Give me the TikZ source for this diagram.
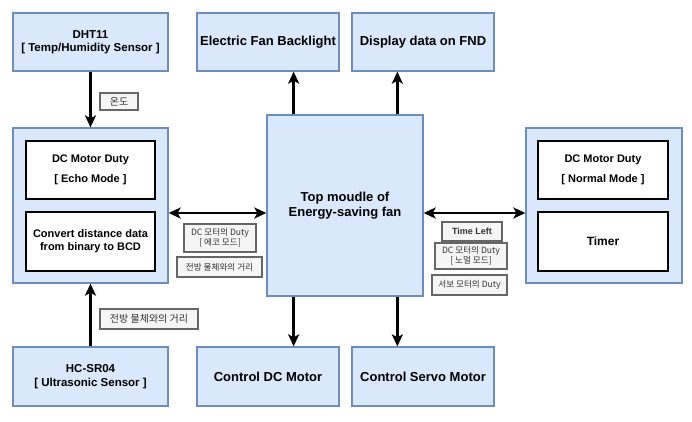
\documentclass[tikz,border=0pt]{standalone}
\usepackage{fontspec}
\setmainfont{Liberation Sans}
\newfontfamily\krfont{Noto Sans CJK KR}
\usetikzlibrary{arrows.meta}
\definecolor{bfill}{HTML}{DAE8FC}
\definecolor{bdraw}{HTML}{6C8EBF}
\definecolor{lfill}{HTML}{F5F5F5}
\definecolor{ldraw}{HTML}{666666}
\definecolor{ltext}{HTML}{333333}
\tikzset{
  bluebox/.style={draw=bdraw, fill=bfill, line width=1.3pt, align=center, font=\bfseries\fontsize{13}{15}\selectfont, inner sep=0pt},
  smallblue/.style={bluebox, font=\bfseries\fontsize{11.5}{13.5}\selectfont},
  panel/.style={draw=bdraw, fill=bfill, line width=1.3pt, inner sep=0pt},
  inbox/.style={draw=black, fill=white, line width=1.6pt, align=center, font=\bfseries\fontsize{11}{13}\selectfont, inner sep=0pt},
  lbl/.style={draw=ldraw, fill=lfill, line width=1.3pt, align=center, text=ltext, inner sep=0pt, font=\krfont\fontsize{8.6}{10}\selectfont},
  biglbl/.style={lbl, font=\krfont\fontsize{10}{12}\selectfont},
  tip/.tip={Stealth[length=12pt,width=11pt,inset=3pt]},
  arr/.style={line width=2.6pt, -tip},
  darr/.style={line width=2.6pt, tip-tip}
}
\begin{document}
\begin{tikzpicture}[x=1pt,y=-1pt]
\useasboundingbox (0,0) rectangle (692,421);
% top row
\node[smallblue, minimum width=155pt, minimum height=58pt] (dht) at (90.5,42) {DHT11\\{[} Temp/Humidity Sensor ]};
\node[bluebox, minimum width=142pt, minimum height=58pt] (efb) at (268,42) {Electric Fan Backlight};
\node[bluebox, minimum width=142pt, minimum height=58pt] (fnd) at (423,42) {Display data on FND};
% center
\node[bluebox, minimum width=156pt, minimum height=181pt] (top) at (345,205.5) {Top moudle of\\Energy-saving fan};
% left panel
\node[panel, minimum width=155pt, minimum height=155pt] (lp) at (90.5,205.5) {};
\node[inbox, minimum width=129pt, minimum height=58pt] (l1) at (90.5,170) {DC Motor Duty\\[7pt]{[} Echo Mode ]};
\node[inbox, minimum width=129pt, minimum height=59pt] (l2) at (90.5,241.5) {Convert distance data\\from binary to BCD};
% right panel
\node[panel, minimum width=156pt, minimum height=155pt] (rp) at (604,205.5) {};
\node[inbox, minimum width=130pt, minimum height=58pt] (r1) at (603,170) {DC Motor Duty\\[7pt]{[} Normal Mode ]};
\node[inbox, minimum width=130pt, minimum height=59pt, font=\bfseries\fontsize{12}{14}\selectfont] (r2) at (603,241.5) {Timer};
% bottom row
\node[smallblue, minimum width=155pt, minimum height=59pt] (hc) at (90.5,376.5) {HC-SR04\\{[} Ultrasonic Sensor ]};
\node[bluebox, minimum width=142pt, minimum height=59pt] (cdc) at (268,376.5) {Control DC Motor};
\node[bluebox, minimum width=142pt, minimum height=59pt] (csm) at (423,376.5) {Control Servo Motor};
% arrows
\draw[arr] (dht.south) -- (lp.north);
\draw[arr] (hc.north) -- (lp.south);
\draw[arr] (top.north -| efb.south east) ++(-46pt,0) coordinate (t1) -- (t1 |- efb.south);
\draw[arr] (top.north -| fnd.south west) ++(46pt,0) coordinate (t2) -- (t2 |- fnd.south);
\draw[arr] (top.south -| t1) coordinate (b1) -- (b1 |- cdc.north);
\draw[arr] (top.south -| t2) coordinate (b2) -- (b2 |- csm.north);
\draw[darr] (lp.east |- 0,213) coordinate (hl) -- (hl -| top.west);
\draw[darr] (top.east |- 0,213) coordinate (hr) -- (hr -| rp.west);
% labels
\node[biglbl, minimum width=38pt, minimum height=17pt] (ltemp) at (119,101.5) {온도};
\node[biglbl, minimum width=98pt, minimum height=20pt] (ldist1) at (149,319) {전방 물체와의 거리};
\node[lbl, minimum width=72pt, minimum height=28pt] (lecho) at (220,238) {DC 모터의 Duty\\{[} 에코 모드]};
\node[lbl, minimum width=85pt, minimum height=20pt] (ldist2) at (219.5,267) {전방 물체와의 거리};
\node[lbl, minimum width=60pt, minimum height=19pt, font=\bfseries\fontsize{9}{11}\selectfont] (ltime) at (472,231.5) {Time Left};
\node[lbl, minimum width=72pt, minimum height=26pt] (lnorm) at (471,256) {DC 모터의 Duty\\{[} 노멀 모드]};
\node[lbl, minimum width=75pt, minimum height=20pt] (lservo) at (469.5,285) {서보 모터의 Duty};
\end{tikzpicture}
\end{document}
